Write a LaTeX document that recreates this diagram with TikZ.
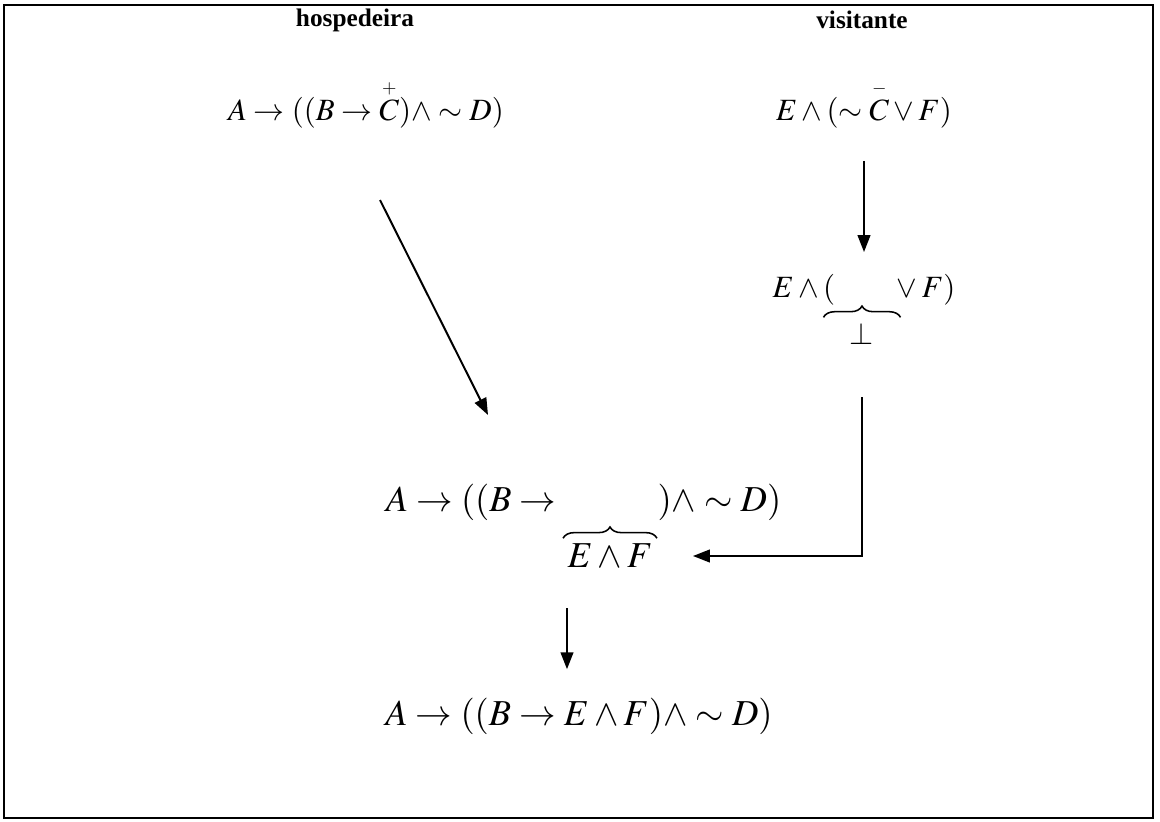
\documentclass[tikz,border=0pt]{standalone}
\usepackage{amsmath}
\usepackage{mathptmx}
\usepackage{fontspec}
\setmainfont{Liberation Serif}
\usepackage{tikz}
\usetikzlibrary{arrows.meta,positioning,calc,decorations.pathreplacing}
\tikzset{
  title/.style={font=\fontsize{18}{21}\selectfont\bfseries,inner sep=2pt},
  formula/.style={font=\fontsize{22}{26}\selectfont,inner sep=3pt},
  bigformula/.style={font=\fontsize{26}{30}\selectfont,inner sep=3pt},
  arrow/.style={-{Triangle[length=12pt,width=9pt]},line width=1.4pt},
  frame/.style={line width=1.5pt},
  bracket/.style={decorate,decoration={brace,amplitude=8pt},line width=1.1pt}
}

\begin{document}
\begin{tikzpicture}
  \useasboundingbox (0,0) rectangle (29,-20.55);
  \draw[frame] (0.1,-0.125) rectangle (28.825,-20.45);

  \node[title] (hostTitle) at (8.875,-0.5) {hospedeira};
  \node[title] (guestTitle) at (21.55,-0.5) {visitante};

  \node[formula] (host) at (9.15,-2.6)
    {$A\to((B\to\overset{\scriptscriptstyle +}{C})\wedge\sim D)$};
  \node[formula] (guest) at (21.6,-2.6)
    {$E\wedge(\sim\overset{\scriptscriptstyle -}{C}\vee F)$};

  \node[formula] (guest2) at (21.6,-7.25)
    {$E\wedge(\hphantom{\sim C}\;\vee F)$};
  \node[formula] (bot) at (21.55,-8.35) {$\bot$};
  \draw[bracket] ([xshift=-0.55cm,yshift=1pt]bot.north west)
    -- ([xshift=0.55cm,yshift=1pt]bot.north east);

  \node[bigformula] (mid) at (14.59,-12.55)
    {$A\to((B\to\hphantom{E\wedge F}\;)\wedge\sim D)$};
  \node[bigformula] (ef) at (15.25,-13.9) {$E\wedge F$};
  \draw[bracket] ([yshift=1pt]ef.north west) -- ([yshift=1pt]ef.north east);

  \node[bigformula] (bottom) at (14.475,-17.9)
    {$A\to((B\to E\wedge F)\wedge\sim D)$};

  % connectors
  \coordinate (diagStart) at (9.5,-5.0);
  \coordinate (diagEnd) at (12.2,-10.375);
  \draw[arrow] (diagStart) -- (diagEnd);
  \draw[arrow,shorten <=0.7cm,shorten >=0.45cm] (guest.south) -- (guest2.north);
  \draw[arrow,shorten <=1.2cm,shorten >=0.9cm] (bot.south) |- (ef.east);
  \coordinate (downTop) at (14.175,-15.2);
  \draw[arrow,shorten >=0.6cm] (downTop) -- (downTop |- bottom.north);
\end{tikzpicture}
\end{document}
